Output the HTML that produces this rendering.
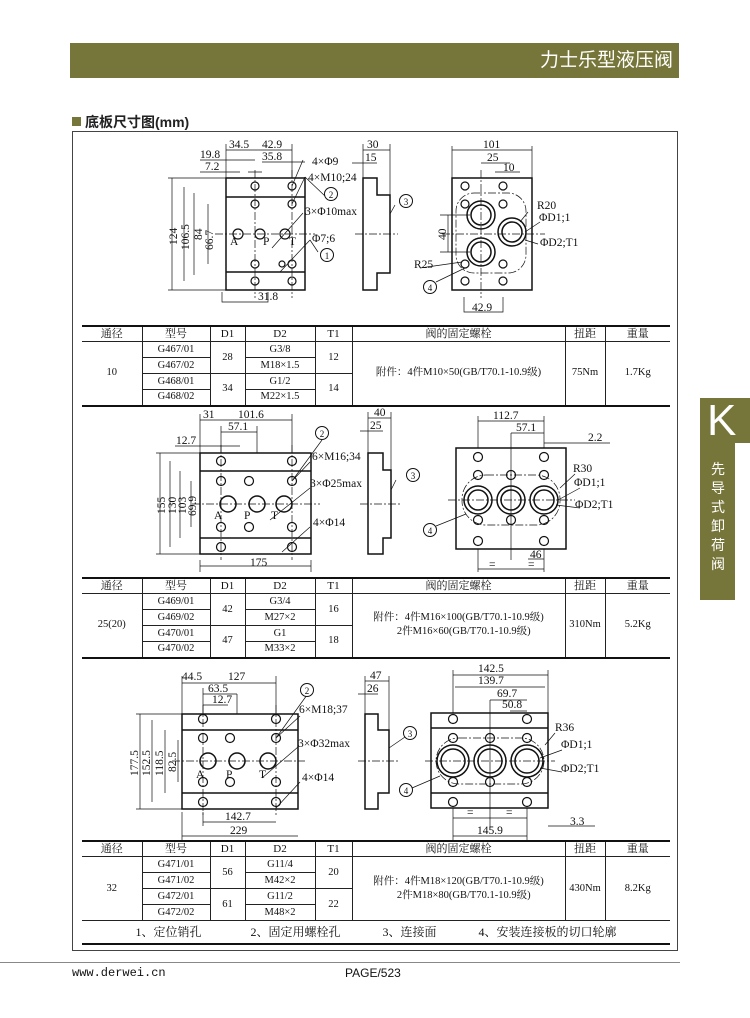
<!DOCTYPE html>
<html><head><meta charset="utf-8">
<style>
*{margin:0;padding:0;box-sizing:border-box}
body{width:750px;height:1018px;background:#fff;position:relative;overflow:hidden;font-family:"Liberation Serif","Noto Serif CJK SC",serif;color:#111}
.hdr{position:absolute;left:70px;top:43px;width:609px;height:35px;background:#77763a;color:#fff;font-family:"Liberation Sans","Noto Sans CJK SC",sans-serif;font-size:19px;text-align:right;padding-right:6px;line-height:35px}
.ttl{position:absolute;left:72px;top:112px;font-family:"Liberation Sans","Noto Sans CJK SC",sans-serif;font-size:14px;font-weight:bold;color:#222}
.ttl span{display:inline-block;width:9px;height:9px;background:#77763a;margin-right:4px;vertical-align:1px}
.box{position:absolute;left:72px;top:131px;width:606px;height:820px;border:1px solid #444}
table{position:absolute;left:82px;border-collapse:collapse;font-size:10.5px;text-align:center;table-layout:fixed}
td{border:1px solid #222;padding:0;height:16px;line-height:14px}
tr.h td{height:15px;font-size:11px}
table{border-top:2px solid #111;border-bottom:2px solid #111}
td.nl{border-left:none}td.nr{border-right:none}
.tab{position:absolute;left:700px;top:398px;width:35px;height:202px;background:#77763a}
.tab2{position:absolute;left:700px;top:398px;width:50px;height:45px;background:#77763a;color:#fff;font-family:"Liberation Sans",sans-serif;font-size:44px;line-height:45px;padding-left:7px}
.tabt{position:absolute;left:708px;top:460px;width:20px;color:#fff;font-family:"Noto Sans CJK SC",sans-serif;font-size:14px;line-height:19px;text-align:center}
.foot{position:absolute;top:962px;left:0;width:680px;height:1px;background:#888}
.f1{position:absolute;top:966px;left:72px;font-family:"Liberation Mono",monospace;font-size:12px}
.f2{position:absolute;top:966px;left:345px;font-family:"Liberation Sans",sans-serif;font-size:12px}
svg{position:absolute;left:0;top:0}
svg text{font-family:"Liberation Serif",serif;font-size:11.5px;fill:#111}
</style></head><body>
<div class="hdr">力士乐型液压阀</div>
<div class="ttl"><span></span>底板尺寸图(mm)</div>
<div class="box"></div>
<svg width="750" height="1018" viewBox="0 0 750 1018">
<g fill="none" stroke="#111" stroke-width="1.5">
<rect x="226" y="178" width="79" height="112"/>
<line x1="226" y1="197" x2="305" y2="197"/><line x1="226" y1="272" x2="305" y2="272"/>
<g stroke-width="1.2"><circle cx="255" cy="186" r="4"/><circle cx="292" cy="186" r="4"/><circle cx="255" cy="204" r="4"/><circle cx="292" cy="204" r="4"/><circle cx="255" cy="264" r="4"/><circle cx="292" cy="264" r="4"/><circle cx="255" cy="281" r="4"/><circle cx="292" cy="281" r="4"/><circle cx="238" cy="234" r="5"/><circle cx="260" cy="234" r="5"/><circle cx="285" cy="234" r="5"/><circle cx="282" cy="264" r="3"/></g>
<path d="M363 178H377V195H390V273H377V290H363Z"/>
<rect x="452" y="178" width="80" height="112"/>
<circle cx="481" cy="215" r="14"/><circle cx="481" cy="215" r="10"/><circle cx="481" cy="252" r="14"/><circle cx="481" cy="252" r="10"/><circle cx="512" cy="232" r="14"/><circle cx="512" cy="232" r="10"/>
<g stroke-width="1.2"><circle cx="465" cy="186" r="4"/><circle cx="503" cy="186" r="4"/><circle cx="465" cy="204" r="4"/><circle cx="503" cy="204" r="4"/><circle cx="465" cy="264" r="4"/><circle cx="503" cy="264" r="4"/><circle cx="465" cy="281" r="4"/><circle cx="503" cy="281" r="4"/></g>
<rect x="200" y="453" width="111" height="101"/>
<line x1="200" y1="471" x2="311" y2="471"/><line x1="200" y1="538" x2="311" y2="538"/>
<g stroke-width="1.2"><circle cx="221" cy="461" r="4.5"/><circle cx="292" cy="461" r="4.5"/><circle cx="221" cy="481" r="4.5"/><circle cx="292" cy="481" r="4.5"/><circle cx="249" cy="481" r="4.5"/><circle cx="221" cy="527" r="4.5"/><circle cx="292" cy="527" r="4.5"/><circle cx="249" cy="527" r="4.5"/><circle cx="221" cy="547" r="4.5"/><circle cx="292" cy="547" r="4.5"/></g>
<circle cx="228" cy="504" r="8"/><circle cx="257" cy="504" r="8"/><circle cx="284" cy="504" r="8"/>
<path d="M368 453H383V470H391V538H383V554H368Z"/>
<rect x="456" y="448" width="110" height="101"/>
<circle cx="478" cy="500" r="14"/><circle cx="478" cy="500" r="10"/><circle cx="511" cy="500" r="14"/><circle cx="511" cy="500" r="10"/><circle cx="544" cy="500" r="14"/><circle cx="544" cy="500" r="10"/>
<g stroke-width="1.2"><circle cx="478" cy="457" r="4.5"/><circle cx="544" cy="457" r="4.5"/><circle cx="478" cy="475" r="4.5"/><circle cx="544" cy="475" r="4.5"/><circle cx="511" cy="475" r="4.5"/><circle cx="478" cy="520" r="4.5"/><circle cx="544" cy="520" r="4.5"/><circle cx="511" cy="520" r="4.5"/><circle cx="478" cy="541" r="4.5"/><circle cx="544" cy="541" r="4.5"/></g>
<rect x="182" y="714" width="116" height="95"/>
<line x1="182" y1="730" x2="298" y2="730"/><line x1="182" y1="793" x2="298" y2="793"/>
<g stroke-width="1.2"><circle cx="203" cy="719" r="4.5"/><circle cx="276" cy="719" r="4.5"/><circle cx="203" cy="738" r="4.5"/><circle cx="276" cy="738" r="4.5"/><circle cx="230" cy="738" r="4.5"/><circle cx="203" cy="782" r="4.5"/><circle cx="276" cy="782" r="4.5"/><circle cx="230" cy="782" r="4.5"/><circle cx="203" cy="802" r="4.5"/><circle cx="276" cy="802" r="4.5"/></g>
<circle cx="208" cy="761" r="8"/><circle cx="237" cy="761" r="8"/><circle cx="268" cy="761" r="8"/>
<path d="M365 714H378V730H389V793H378V809H365Z"/>
<rect x="431" y="713" width="117" height="95"/>
<line x1="431" y1="728" x2="548" y2="728"/><line x1="431" y1="793" x2="548" y2="793"/>
<circle cx="453" cy="761" r="16"/><circle cx="453" cy="761" r="12"/><circle cx="490" cy="761" r="16"/><circle cx="490" cy="761" r="12"/><circle cx="527" cy="761" r="16"/><circle cx="527" cy="761" r="12"/>
<g stroke-width="1.2"><circle cx="453" cy="719" r="4.5"/><circle cx="527" cy="719" r="4.5"/><circle cx="453" cy="738" r="4.5"/><circle cx="527" cy="738" r="4.5"/><circle cx="490" cy="738" r="4.5"/><circle cx="453" cy="782" r="4.5"/><circle cx="527" cy="782" r="4.5"/><circle cx="490" cy="782" r="4.5"/><circle cx="453" cy="802" r="4.5"/><circle cx="527" cy="802" r="4.5"/></g>
</g>
<g stroke="#111" stroke-width="0.7" stroke-dasharray="8 2 2 2" fill="none">
<line x1="215" y1="234" x2="315" y2="234"/><line x1="255" y1="170" x2="255" y2="298"/><line x1="292" y1="170" x2="292" y2="298"/>
<line x1="355" y1="234" x2="398" y2="234"/>
<line x1="442" y1="234" x2="545" y2="234"/><line x1="481" y1="170" x2="481" y2="298"/>
<rect x="456" y="193" width="70" height="80" rx="18"/>
<line x1="192" y1="504" x2="320" y2="504"/><line x1="221" y1="445" x2="221" y2="560"/><line x1="292" y1="445" x2="292" y2="560"/>
<line x1="360" y1="504" x2="400" y2="504"/>
<line x1="448" y1="500" x2="575" y2="500"/><rect x="462" y="475" width="98" height="50" rx="24"/>
<line x1="172" y1="761" x2="305" y2="761"/><line x1="203" y1="705" x2="203" y2="815"/><line x1="276" y1="705" x2="276" y2="815"/>
<line x1="358" y1="761" x2="398" y2="761"/>
<line x1="425" y1="761" x2="555" y2="761"/><rect x="436" y="738" width="108" height="46" rx="23"/>
</g>
<g stroke="#111" stroke-width="0.7" fill="none">
<path d="M226 150H255M255 150H292M226 144V178M292 144V178M200 160H255M262 162H305M200 172H240M248 172H262"/>
<path d="M172 178V290M168 178H226M168 290H226M184 187V281M194 193V275M208 204V264M222 292V302H268V292"/>
<path d="M363 150H390M363 144V178M390 144V195M352 163H377"/>
<path d="M452 150H532M452 146V178M532 146V178M481 163H510M495 172H520M448 215V252M440 215H470M440 252H470M464 297V312H503V297"/>
<path d="M303 160L292 186M305 177L292 204M303 213L272 248M310 240L280 272M318 252L310 240M325 196L305 177M395 205L390 214M528 212L520 222M540 222L525 232M538 244L525 240M436 282L465 268M420 268L462 262"/>
<path d="M200 420H292M200 414V453M292 414V453M221 432H257M221 426V453M257 426V453M175 446H240M160 453V554M156 453H200M156 554H200M170 461V547M180 471V538M191 481V527M200 566H311M200 560V572M311 560V572"/>
<path d="M368 418H391M368 412V453M391 412V470M360 431H383M396 480L391 490M310 462L292 481M322 440L292 481M310 488L270 520M310 527L282 552"/>
<path d="M478 421H544M478 416V448M544 416V448M511 433H544M511 433V560M544 443H610M528 559H544M478 569H544M478 549V572M544 549V572M575 474L560 488M580 488L558 500M580 508L556 505M436 526L466 514"/>
<path d="M182 683H276M182 676V714M276 676V714M203 694H237M203 688V714M237 694V714M203 705H228M140 714V809M136 714H182M136 809H182M152 720V802M165 730V793M178 740V782M203 822H276M203 812V826M182 836H298M182 812V840"/>
<path d="M365 681H389M365 676V714M389 676V730M358 694H378M405 737L389 748M300 716L276 738M307 695L276 738M298 747L262 778M300 782L276 808"/>
<path d="M453 675H548M453 670V713M548 670V713M455 687H545M490 700H527M490 700V830M510 711H527M453 818H527M453 808V840M527 808V840M453 836H527M548 826H595M555 733L545 745M562 750L540 758M562 772L540 768M412 788L440 776"/>
</g>
<g fill="#fff" stroke="#111" stroke-width="1"><circle cx="327" cy="255" r="6.5"/><circle cx="331" cy="194" r="6.5"/><circle cx="406" cy="201" r="6.5"/><circle cx="430" cy="287" r="6.5"/><circle cx="322" cy="433" r="6.5"/><circle cx="413" cy="475" r="6.5"/><circle cx="430" cy="530" r="6.5"/><circle cx="307" cy="690" r="6.5"/><circle cx="410" cy="733" r="6.5"/><circle cx="406" cy="790" r="6.5"/></g>
<g text-anchor="middle"><text x="327" y="259" style="font-size:9px">1</text><text x="331" y="198" style="font-size:9px">2</text><text x="406" y="205" style="font-size:9px">3</text><text x="430" y="291" style="font-size:9px">4</text><text x="322" y="437" style="font-size:9px">2</text><text x="413" y="479" style="font-size:9px">3</text><text x="430" y="534" style="font-size:9px">4</text><text x="307" y="694" style="font-size:9px">2</text><text x="410" y="737" style="font-size:9px">3</text><text x="406" y="794" style="font-size:9px">4</text></g>
<g>
<text x="229" y="148">34.5</text><text x="262" y="148">42.9</text><text x="200" y="158">19.8</text><text x="262" y="160">35.8</text><text x="205" y="170">7.2</text>
<text x="258" y="300">31.8</text><text x="230" y="245">A</text><text x="263" y="245">P</text><text x="289" y="245">T</text>
<text x="312" y="165">4×Φ9</text><text x="308" y="181">4×M10;24</text><text x="305" y="215">3×Φ10max</text><text x="312" y="242">Φ7;6</text>
<text x="367" y="148">30</text><text x="365" y="161">15</text>
<text x="483" y="148">101</text><text x="487" y="161">25</text><text x="503" y="171">10</text><text x="537" y="209">R20</text><text x="539" y="221">ΦD1;1</text><text x="540" y="246">ΦD2;T1</text><text x="414" y="268">R25</text><text x="472" y="311">42.9</text>
<text x="203" y="418">31</text><text x="238" y="418">101.6</text><text x="228" y="430">57.1</text><text x="176" y="444">12.7</text><text x="250" y="566">175</text>
<text x="312" y="460">6×M16;34</text><text x="310" y="487">3×Φ25max</text><text x="313" y="526">4×Φ14</text><text x="214" y="519">A</text><text x="244" y="519">P</text><text x="271" y="519">T</text>
<text x="374" y="416">40</text><text x="370" y="429">25</text>
<text x="493" y="419">112.7</text><text x="516" y="431">57.1</text><text x="588" y="441">2.2</text><text x="573" y="472">R30</text><text x="574" y="486">ΦD1;1</text><text x="575" y="508">ΦD2;T1</text><text x="530" y="558">46</text><text x="489" y="568">=</text><text x="528" y="568">=</text>
<text x="182" y="680">44.5</text><text x="228" y="680">127</text><text x="208" y="692">63.5</text><text x="212" y="703">12.7</text><text x="225" y="820">142.7</text><text x="230" y="834">229</text>
<text x="299" y="713">6×M18;37</text><text x="298" y="747">3×Φ32max</text><text x="302" y="781">4×Φ14</text><text x="196" y="778">A</text><text x="226" y="778">P</text><text x="259" y="778">T</text>
<text x="370" y="679">47</text><text x="367" y="692">26</text>
<text x="478" y="672">142.5</text><text x="478" y="684">139.7</text><text x="497" y="697">69.7</text><text x="502" y="708">50.8</text><text x="555" y="731">R36</text><text x="561" y="748">ΦD1;1</text><text x="561" y="772">ΦD2;T1</text><text x="570" y="825">3.3</text><text x="477" y="834">145.9</text><text x="467" y="816">=</text><text x="506" y="816">=</text>
</g>
<g>
<text transform="translate(177,245) rotate(-90)">124</text><text transform="translate(189,250) rotate(-90)">106.5</text><text transform="translate(202,240) rotate(-90)">84</text><text transform="translate(213,250) rotate(-90)">66.7</text><text transform="translate(446,240) rotate(-90)">40</text>
<text transform="translate(165,514) rotate(-90)">155</text><text transform="translate(176,514) rotate(-90)">130</text><text transform="translate(186,514) rotate(-90)">103</text><text transform="translate(196,516) rotate(-90)">69.9</text>
<text transform="translate(138,776) rotate(-90)">177.5</text><text transform="translate(150,776) rotate(-90)">152.5</text><text transform="translate(163,776) rotate(-90)">118.5</text><text transform="translate(176,772) rotate(-90)">82.5</text>
</g>
</svg>

<table style="top:325px;width:588px">
<colgroup><col style="width:60px"><col style="width:68px"><col style="width:35px"><col style="width:70px"><col style="width:37px"><col style="width:213px"><col style="width:40px"><col style="width:65px"></colgroup>
<tr class="h"><td class="nl">通径</td><td>型号</td><td>D1</td><td>D2</td><td>T1</td><td>阀的固定螺栓</td><td>扭距</td><td class="nr">重量</td></tr>
<tr><td rowspan="4" class="nl">10</td><td>G467/01</td><td rowspan="2">28</td><td>G3/8</td><td rowspan="2">12</td><td rowspan="4">附件：4件M10×50(GB/T70.1-10.9级)</td><td rowspan="4">75Nm</td><td rowspan="4" class="nr">1.7Kg</td></tr>
<tr><td>G467/02</td><td>M18×1.5</td></tr>
<tr><td>G468/01</td><td rowspan="2">34</td><td>G1/2</td><td rowspan="2">14</td></tr>
<tr><td>G468/02</td><td>M22×1.5</td></tr>
</table>

<table style="top:577px;width:588px">
<colgroup><col style="width:60px"><col style="width:68px"><col style="width:35px"><col style="width:70px"><col style="width:37px"><col style="width:213px"><col style="width:40px"><col style="width:65px"></colgroup>
<tr class="h"><td class="nl">通径</td><td>型号</td><td>D1</td><td>D2</td><td>T1</td><td>阀的固定螺栓</td><td>扭距</td><td class="nr">重量</td></tr>
<tr><td rowspan="4" class="nl">25(20)</td><td>G469/01</td><td rowspan="2">42</td><td>G3/4</td><td rowspan="2">16</td><td rowspan="4">附件：4件M16×100(GB/T70.1-10.9级)<br>&nbsp;&nbsp;&nbsp;&nbsp;2件M16×60(GB/T70.1-10.9级)</td><td rowspan="4">310Nm</td><td rowspan="4" class="nr">5.2Kg</td></tr>
<tr><td>G469/02</td><td>M27×2</td></tr>
<tr><td>G470/01</td><td rowspan="2">47</td><td>G1</td><td rowspan="2">18</td></tr>
<tr><td>G470/02</td><td>M33×2</td></tr>
</table>

<table style="top:840px;width:588px">
<colgroup><col style="width:60px"><col style="width:68px"><col style="width:35px"><col style="width:70px"><col style="width:37px"><col style="width:213px"><col style="width:40px"><col style="width:65px"></colgroup>
<tr class="h"><td class="nl">通径</td><td>型号</td><td>D1</td><td>D2</td><td>T1</td><td>阀的固定螺栓</td><td>扭距</td><td class="nr">重量</td></tr>
<tr><td rowspan="4" class="nl">32</td><td>G471/01</td><td rowspan="2">56</td><td>G11/4</td><td rowspan="2">20</td><td rowspan="4">附件：4件M18×120(GB/T70.1-10.9级)<br>&nbsp;&nbsp;&nbsp;&nbsp;2件M18×80(GB/T70.1-10.9级)</td><td rowspan="4">430Nm</td><td rowspan="4" class="nr">8.2Kg</td></tr>
<tr><td>G471/02</td><td>M42×2</td></tr>
<tr><td>G472/01</td><td rowspan="2">61</td><td>G11/2</td><td rowspan="2">22</td></tr>
<tr><td>G472/02</td><td>M48×2</td></tr>
<tr><td colspan="8" class="nl nr" style="height:23px;font-size:12px;word-spacing:4px">1、定位销孔&nbsp;&nbsp;&nbsp;&nbsp;&nbsp;&nbsp;&nbsp;2、固定用螺栓孔&nbsp;&nbsp;&nbsp;&nbsp;&nbsp;&nbsp;3、连接面&nbsp;&nbsp;&nbsp;&nbsp;&nbsp;&nbsp;4、安装连接板的切口轮廓</td></tr>
</table>

<div class="tab"></div><div class="tab2">K</div>
<div class="tabt">先<br>导<br>式<br>卸<br>荷<br>阀</div>
<div class="foot"></div>
<div class="f1">www.derwei.cn</div>
<div class="f2">PAGE/523</div>
</body></html>
